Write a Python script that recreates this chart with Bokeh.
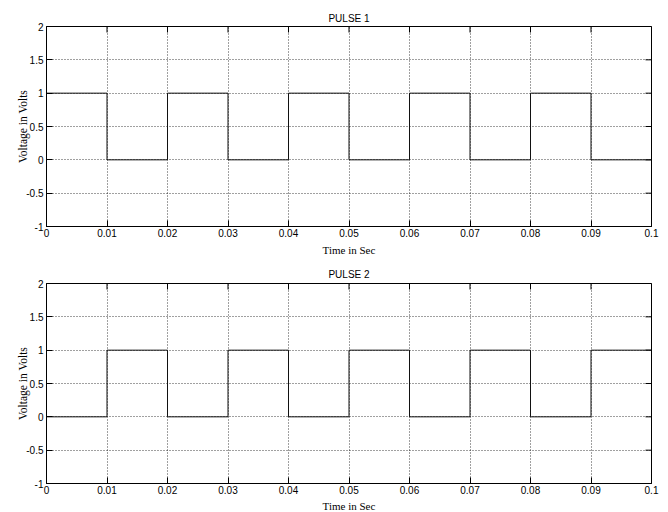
import math
from bokeh.plotting import figure
from bokeh.layouts import column
from bokeh.models import Range1d, FixedTicker
from bokeh.embed import file_html
from bokeh.resources import INLINE

# ---- data ----
pulse_times = [0.0, 0.01, 0.02, 0.03, 0.04, 0.05, 0.06, 0.07, 0.08, 0.09, 0.1]
pulse1_levels = [1, 0, 1, 0, 1, 0, 1, 0, 1, 0, 0]
pulse2_levels = [0, 1, 0, 1, 0, 1, 0, 1, 0, 1, 1]

x_ticks = [0.0, 0.01, 0.02, 0.03, 0.04, 0.05, 0.06, 0.07, 0.08, 0.09, 0.1]
x_tick_labels = ["0", "0.01", "0.02", "0.03", "0.04", "0.05", "0.06", "0.07", "0.08", "0.09", "0.1"]
y_ticks = [-1, -0.5, 0, 0.5, 1, 1.5, 2]
y_tick_labels = ["-1", "-0.5", "0", "0.5", "1", "1.5", "2"]
x_min, x_max = 0.0, 0.1
y_min, y_max = -1, 2

titles = ["PULSE 1", "PULSE 2"]
x_label = "Time in Sec"
y_label = "Voltage in Volts"

SANS = "'Liberation Sans Narrow', 'Liberation Sans', Arial, sans-serif"
SERIF = "'Liberation Serif', 'Times New Roman', serif"


def make_panel(title, levels, height, b_top, b_bottom, title_standoff, xlabel_standoff):
    p = figure(width=660, height=height, output_backend="svg", toolbar_location=None,
               frame_width=605, frame_height=200,
               x_range=Range1d(x_min, x_max), y_range=Range1d(y_min, y_max),
               min_border_left=46, min_border_right=9,
               min_border_top=b_top, min_border_bottom=b_bottom,
               title=title)
    p.title.align = "center"
    p.title.text_font = SANS
    p.title.text_font_size = "10px"
    p.title.text_font_style = "normal"
    p.title.text_color = "black"
    p.title.standoff = title_standoff

    p.outline_line_color = "black"
    p.outline_line_width = 1
    p.background_fill_color = "white"
    p.border_fill_color = "white"

    xt = FixedTicker(ticks=x_ticks)
    yt = FixedTicker(ticks=y_ticks)
    p.xaxis.ticker = xt
    p.yaxis.ticker = yt
    p.xaxis.major_label_overrides = {t: l for t, l in zip(x_ticks, x_tick_labels)}
    p.yaxis.major_label_overrides = {t: l for t, l in zip(y_ticks, y_tick_labels)}
    for ax in (p.xaxis[0], p.yaxis[0]):
        ax.major_tick_in = 6
        ax.major_tick_out = 0
        ax.minor_tick_line_color = None
        ax.axis_line_color = "black"
        ax.major_tick_line_color = "black"
        ax.major_label_text_font = SANS
        ax.major_label_text_font_size = "10px"
        ax.major_label_text_color = "black"
        ax.axis_label_text_font = SERIF
        ax.axis_label_text_font_style = "normal"
        ax.axis_label_text_color = "black"
    p.xaxis.axis_label_text_font_size = "11px"
    p.yaxis.axis_label_text_font_size = "11.5px"
    p.xaxis.major_label_standoff = 2
    p.yaxis.major_label_standoff = 3
    p.xaxis.axis_label = x_label
    p.yaxis.axis_label = y_label
    p.xaxis.axis_label_standoff = xlabel_standoff
    p.yaxis.axis_label_standoff = -6

    p.xgrid.ticker = xt
    p.ygrid.ticker = yt
    for g in (p.xgrid[0], p.ygrid[0]):
        g.grid_line_color = "black"
        g.grid_line_alpha = 0.75
        g.grid_line_dash = "1 2"
        g.grid_line_width = 1

    # inward ticks on the top and right edges (half of each dash is clipped by the frame)
    p.scatter(x_ticks, [y_max] * len(x_ticks), marker="dash", angle=math.pi / 2, size=12,
              line_color="black", line_width=1)
    p.scatter([x_max] * len(y_ticks), y_ticks, marker="dash", size=12,
              line_color="black", line_width=1)

    p.step(pulse_times, levels, mode="after", line_color="#111111", line_width=1)
    return p


p1 = make_panel(titles[0], pulse1_levels, 263, 26, 37, 6, 4)
p2 = make_panel(titles[1], pulse2_levels, 249, 20, 29, 7, 3)

layout = column(p1, p2, spacing=0)
open("out.html", "w").write(file_html(layout, INLINE))
